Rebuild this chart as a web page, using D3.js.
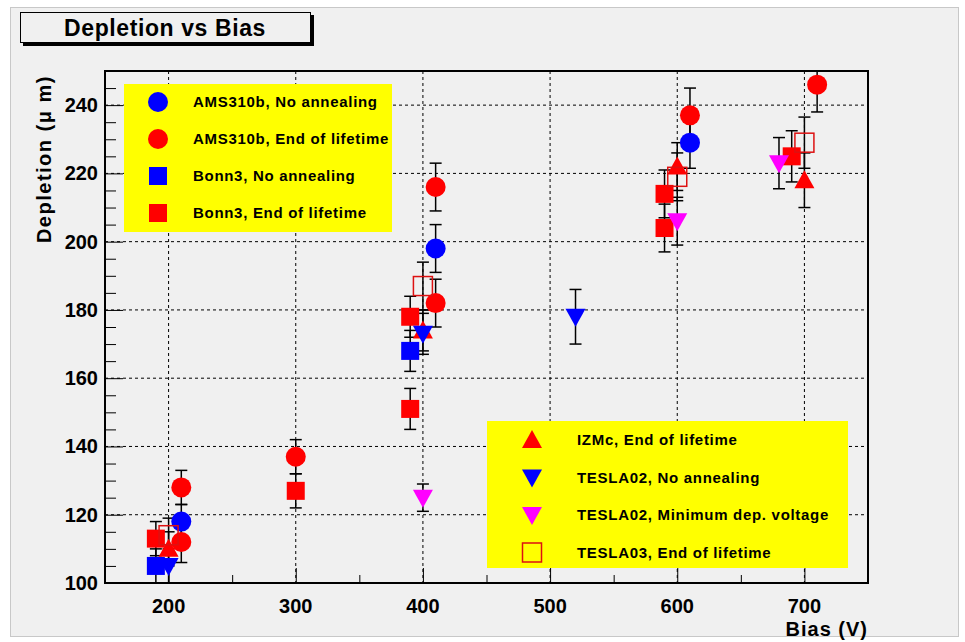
<!DOCTYPE html>
<html>
<head>
<meta charset="utf-8">
<script src="https://cdn.jsdelivr.net/npm/d3@7"></script>
<style>
  body { margin: 0; background: #ffffff; }
  svg { display: block; font-family: "Liberation Sans", Arial, sans-serif; font-weight: bold; }
</style>
</head>
<body>
<div id="chart"></div>
<script>
// values: bias (V), depletion (um), error (um)
var amsNoAnnX = [210, 410, 610];
var amsNoAnnY = [118, 198, 229];
var amsNoAnnE = [5, 7, 7.5];

var amsEolX = [210, 210, 300, 410, 410, 610, 710];
var amsEolY = [128, 112, 137, 216, 182, 237, 246];
var amsEolE = [5, 6, 5, 7, 7, 8, 8];

var bonnNoAnnX = [190, 390];
var bonnNoAnnY = [105, 168];
var bonnNoAnnE = [5, 6];

var bonnEolX = [190, 300, 390, 390, 590, 590, 690];
var bonnEolY = [113, 127, 178, 151, 214, 204, 225];
var bonnEolE = [5, 5, 6, 6, 7, 7, 7.5];

var izmEolX = [200, 400, 600, 700];
var izmEolY = [110, 174, 222, 218];
var izmEolE = [5, 6, 7, 8];

var teslaNoAnnX = [200, 400, 520];
var teslaNoAnnY = [105, 173, 178];
var teslaNoAnnE = [5, 6, 8];

var teslaMinX = [400, 600, 680];
var teslaMinY = [125, 206, 223];
var teslaMinE = [4, 7, 7.5];

var tesla3X = [200, 400, 600, 700];
var tesla3Y = [114, 187, 219, 229];
var tesla3E = [5, 7, 7, 7.5];

var xTicks = [200, 300, 400, 500, 600, 700];
var yTicks = [100, 120, 140, 160, 180, 200, 220, 240];

var legendTop = ["AMS310b, No annealing", "AMS310b, End of lifetime", "Bonn3, No annealing", "Bonn3, End of lifetime"];
var legendBottom = ["IZMc, End of lifetime", "TESLA02, No annealing", "TESLA02, Minimum dep. voltage", "TESLA03, End of lifetime"];

function zip(xs, ys, es) {
    return xs.map(function(x, i) { return {x: x, y: ys[i], e: es[i]}; });
}

var series = [
    {data: zip(amsNoAnnX, amsNoAnnY, amsNoAnnE), shape: "circle", color: "#0000ff"},
    {data: zip(amsEolX, amsEolY, amsEolE), shape: "circle", color: "#ff0000"},
    {data: zip(bonnNoAnnX, bonnNoAnnY, bonnNoAnnE), shape: "square", color: "#0000ff"},
    {data: zip(bonnEolX, bonnEolY, bonnEolE), shape: "square", color: "#ff0000"},
    {data: zip(izmEolX, izmEolY, izmEolE), shape: "up", color: "#ff0000"},
    {data: zip(teslaNoAnnX, teslaNoAnnY, teslaNoAnnE), shape: "down", color: "#0000ff"},
    {data: zip(teslaMinX, teslaMinY, teslaMinE), shape: "down", color: "#ff00ff"},
    {data: zip(tesla3X, tesla3Y, tesla3E), shape: "open", color: "#dd1111"}
];

var W = 965, H = 642;
var pLeft = 105, pRight = 868, pTop = 71, pBottom = 583;

var svg = d3.select("#chart").append("svg")
    .attr("width", W)
    .attr("height", H);

// canvas
svg.append("rect")
    .attr("x", 10.5).attr("y", 7.5)
    .attr("width", 948).attr("height", 629)
    .attr("fill", "#f0f0f0")
    .attr("stroke", "#c8c8c8");

var x = d3.scaleLinear().domain([150, 750]).range([pLeft, pRight]);
var y = d3.scaleLinear().domain([100, 250]).range([pBottom, pTop]);

// grid
svg.append("g").selectAll("line")
    .data(xTicks)
    .join("line")
    .attr("x1", d => x(d)).attr("x2", d => x(d))
    .attr("y1", pTop).attr("y2", pBottom)
    .attr("stroke", "#000").attr("stroke-dasharray", "3,3");

svg.append("g").selectAll("line")
    .data(yTicks.filter(d => d > 100))
    .join("line")
    .attr("x1", pLeft).attr("x2", pRight)
    .attr("y1", d => y(d)).attr("y2", d => y(d))
    .attr("stroke", "#000").attr("stroke-dasharray", "3,3");

// axes with ticks inside the frame
var xAxis = svg.append("g")
    .attr("transform", `translate(0, ${pBottom})`)
    .call(d3.axisTop(x).tickValues(d3.range(150, 751, 50)).tickSize(8).tickFormat(""));
xAxis.selectAll(".tick line").filter(d => d % 100 === 0).attr("y2", -15);
xAxis.select(".domain").remove();

svg.append("g")
    .attr("transform", `translate(0, ${pBottom})`)
    .selectAll("text")
    .data(xTicks)
    .join("text")
    .attr("x", d => x(d)).attr("y", 30)
    .attr("text-anchor", "middle")
    .attr("font-size", 20)
    .text(d => d);

var yAxis = svg.append("g")
    .attr("transform", `translate(${pLeft}, 0)`)
    .call(d3.axisRight(y).tickValues(d3.range(100, 251, 5)).tickSize(11).tickFormat(""));
yAxis.selectAll(".tick line").filter(d => d % 20 === 0).attr("x2", 18);
yAxis.select(".domain").remove();

svg.append("g")
    .selectAll("text")
    .data(yTicks)
    .join("text")
    .attr("x", pLeft - 7).attr("y", d => y(d) + 7)
    .attr("text-anchor", "end")
    .attr("font-size", 20)
    .text(d => d);

// frame
svg.append("rect")
    .attr("x", pLeft).attr("y", pTop)
    .attr("width", pRight - pLeft).attr("height", pBottom - pTop)
    .attr("fill", "none").attr("stroke", "#000").attr("stroke-width", 2);

// legends
function drawMarker(g, shape, color, cx, cy) {
    if (shape === "circle") {
        g.append("circle").attr("cx", cx).attr("cy", cy).attr("r", 10).attr("fill", color);
    } else if (shape === "square") {
        g.append("rect").attr("x", cx - 9).attr("y", cy - 9).attr("width", 18).attr("height", 18).attr("fill", color);
    } else if (shape === "open") {
        g.append("rect").attr("x", cx - 9.5).attr("y", cy - 9.5).attr("width", 19).attr("height", 19)
            .attr("fill", "none").attr("stroke", color).attr("stroke-width", 1.5);
    } else {
        var s = shape === "up" ? -1 : 1;
        g.append("path")
            .attr("d", `M${cx - 10},${cy - s * 8} L${cx + 10},${cy - s * 8} L${cx},${cy + s * 10} Z`)
            .attr("fill", color);
    }
}

var leg1 = svg.append("g");
leg1.append("rect").attr("x", 124).attr("y", 84).attr("width", 268).attr("height", 148).attr("fill", "#ffff00");
legendTop.forEach(function(label, i) {
    var cy = 102 + i * 37;
    drawMarker(leg1, series[i].shape, series[i].color, 158, cy);
    leg1.append("text").attr("x", 193).attr("y", cy + 5).attr("font-size", 15)
        .attr("letter-spacing", 0.7).text(label);
});

var leg2 = svg.append("g");
leg2.append("rect").attr("x", 487).attr("y", 421).attr("width", 361).attr("height", 147).attr("fill", "#ffff00");
legendBottom.forEach(function(label, i) {
    var cy = 440 + i * 37.5;
    drawMarker(leg2, series[i + 4].shape, series[i + 4].color, 532, cy);
    leg2.append("text").attr("x", 577).attr("y", cy + 5).attr("font-size", 15)
        .attr("letter-spacing", 0.7).text(label);
});

// clip for data
svg.append("clipPath").attr("id", "plotclip")
    .append("rect").attr("x", pLeft).attr("y", pTop).attr("width", pRight - pLeft).attr("height", pBottom - pTop);

var plot = svg.append("g").attr("clip-path", "url(#plotclip)");

series.forEach(function(s) {
    var g = plot.append("g");
    s.data.forEach(function(d) {
        var px = x(d.x);
        g.append("line").attr("x1", px).attr("x2", px)
            .attr("y1", y(d.y - d.e)).attr("y2", y(d.y + d.e))
            .attr("stroke", "#000").attr("stroke-width", 1.5);
        [d.y - d.e, d.y + d.e].forEach(function(v) {
            g.append("line").attr("x1", px - 6).attr("x2", px + 6)
                .attr("y1", y(v)).attr("y2", y(v))
                .attr("stroke", "#000").attr("stroke-width", 1.5);
        });
    });
});

series.forEach(function(s) {
    var g = plot.append("g");
    s.data.forEach(function(d) {
        drawMarker(g, s.shape, s.color, x(d.x), y(d.y));
    });
});

// axis titles
svg.append("text")
    .attr("transform", "translate(51, 75) rotate(-90)")
    .attr("text-anchor", "end")
    .attr("font-size", 20)
    .attr("letter-spacing", 1.5)
    .text("Depletion (\u03bc m)");

svg.append("text")
    .attr("x", pRight).attr("y", 636)
    .attr("text-anchor", "end")
    .attr("font-size", 20)
    .attr("letter-spacing", 1)
    .text("Bias (V)");

// title box with shadow
svg.append("rect").attr("x", 23).attr("y", 15).attr("width", 291).attr("height", 31).attr("fill", "#000");
svg.append("rect").attr("x", 20.5).attr("y", 12.5).attr("width", 290).attr("height", 30)
    .attr("fill", "#f0f0f0").attr("stroke", "#000");
svg.append("text")
    .attr("x", 165).attr("y", 36)
    .attr("text-anchor", "middle")
    .attr("font-size", 23)
    .attr("letter-spacing", 0.6)
    .text("Depletion vs Bias");
</script>
</body>
</html>
